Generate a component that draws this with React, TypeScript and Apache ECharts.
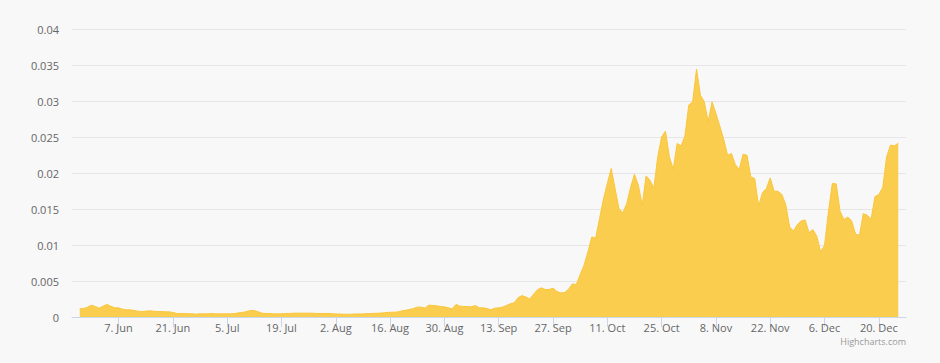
import React, { useEffect, useRef } from "react";
import * as echarts from "echarts";

// Daily values, 28 May 2021 – 25 Dec 2021
const startDate = "2021-05-28";
const mayValues = [0.00113, 0.00118, 0.00137, 0.00164];
const junValues = [
  0.00146, 0.00123, 0.0015, 0.00174, 0.0015, 0.00127, 0.00127, 0.00109, 0.001, 0.001,
  0.0009, 0.00081, 0.00076, 0.00081, 0.00086, 0.00081, 0.00076, 0.00076, 0.00072, 0.00072,
  0.00063, 0.00049, 0.00049, 0.00049, 0.00044, 0.00044, 0.00039, 0.00044, 0.00044, 0.00044,
];
const julValues = [
  0.00049, 0.00044, 0.00044, 0.00044, 0.00044, 0.00044, 0.00049, 0.00058, 0.00063, 0.00076,
  0.0009, 0.0009, 0.00072, 0.00053, 0.00049, 0.00049, 0.00044, 0.00044, 0.00044, 0.00049,
  0.00049, 0.00053, 0.00053, 0.00053, 0.00053, 0.00053, 0.00053, 0.00049, 0.00049, 0.00049,
  0.00049,
];
const augValues = [
  0.00045, 0.00042, 0.00042, 0.00038, 0.00038, 0.00038, 0.00042, 0.00042, 0.00042, 0.00047,
  0.00047, 0.00052, 0.00052, 0.00057, 0.00061, 0.00066, 0.00066, 0.00071, 0.00085, 0.00094,
  0.00104, 0.00118, 0.00137, 0.00137, 0.00123, 0.00165, 0.0016, 0.00156, 0.00146, 0.00142,
  0.00127,
];
const sepValues = [
  0.00113, 0.00175, 0.00151, 0.00146, 0.00146, 0.00142, 0.0016, 0.00127, 0.00127, 0.00118,
  0.00099, 0.00123, 0.00127, 0.00137, 0.0016, 0.00184, 0.00198, 0.00269, 0.00297, 0.00278,
  0.0025, 0.00316, 0.00377, 0.00406, 0.00382, 0.00382, 0.00401, 0.00354, 0.00335, 0.0034,
];
const octValues = [
  0.00385, 0.0046, 0.0045, 0.00589, 0.00718, 0.00904, 0.01112, 0.01098, 0.01367, 0.01636,
  0.01854, 0.02062, 0.01784, 0.01506, 0.01446, 0.01576, 0.01798, 0.01983, 0.0183, 0.01552,
  0.0196, 0.019, 0.01793, 0.02224, 0.02502, 0.02581, 0.02224, 0.02053, 0.0241, 0.02377,
  0.02512,
];
const novValues = [
  0.02943, 0.02989, 0.03443, 0.03082, 0.02989, 0.02711, 0.02989, 0.02827, 0.02651, 0.0247,
  0.02247, 0.02271, 0.02118, 0.02048, 0.02261, 0.02247, 0.01946, 0.01923, 0.01543, 0.01728,
  0.01784, 0.01932, 0.01747, 0.01747, 0.01701, 0.01562, 0.01251, 0.01196, 0.01284, 0.01335,
];
const decValues = [
  0.01348, 0.01172, 0.01214, 0.01121, 0.00904, 0.00996, 0.0146, 0.01854, 0.01849, 0.01469,
  0.01353, 0.0139, 0.01335, 0.01149, 0.01135, 0.01437, 0.01413, 0.01358, 0.01673, 0.01701,
  0.01798, 0.02224, 0.02387, 0.02377, 0.02414,
];

const axisStart = "2021-05-26";
const axisEnd = "2021-12-27";
const tickDates = [
  "2021-06-07", "2021-06-21", "2021-07-05", "2021-07-19", "2021-08-02", "2021-08-16",
  "2021-08-30", "2021-09-13", "2021-09-27", "2021-10-11", "2021-10-25", "2021-11-08",
  "2021-11-22", "2021-12-06", "2021-12-20",
];
const monthNames = ["Jan", "Feb", "Mar", "Apr", "May", "Jun", "Jul", "Aug", "Sep", "Oct", "Nov", "Dec"];

const DAY = 86400000;
const ts = (s: string) => Date.parse(s + "T00:00:00Z");

export default function App() {
  const ref = useRef<HTMLDivElement>(null);
  useEffect(() => {
    if (!ref.current) return;
    const chart = echarts.init(ref.current, undefined, { renderer: "svg" });
    const all = [
      ...mayValues, ...junValues, ...julValues, ...augValues,
      ...sepValues, ...octValues, ...novValues, ...decValues,
    ];
    const t0 = ts(startDate);
    const data = all.map((v, i) => [t0 + i * DAY, v]);
    const ticks = tickDates.map(ts);
    const font = "'Open Sans', 'DejaVu Sans', sans-serif";
    chart.setOption({
      animation: false,
      backgroundColor: "#f8f8f8",
      grid: { left: 72, right: 34, top: 29, bottom: 46, containLabel: false },
      xAxis: {
        type: "value",
        min: ts(axisStart),
        max: ts(axisEnd),
        axisLine: { show: true, lineStyle: { color: "#ccd6eb", width: 1 } },
        axisTick: {
          show: true,
          length: 10,
          lineStyle: { color: "#ccd6eb" },
          customValues: ticks,
        },
        axisLabel: {
          customValues: ticks,
          color: "#666666",
          fontSize: 11,
          fontFamily: font,
          margin: 5,
          formatter: (v: number) => {
            const d = new Date(v);
            return d.getUTCDate() + ". " + monthNames[d.getUTCMonth()];
          },
        },
        splitLine: { show: false },
      },
      yAxis: {
        type: "value",
        min: 0,
        max: 0.04,
        interval: 0.005,
        axisLine: { show: false },
        axisTick: { show: false },
        axisLabel: { color: "#666666", fontSize: 11, fontFamily: font, margin: 13 },
        splitLine: { lineStyle: { color: "#e6e6e6", width: 1 } },
      },
      series: [
        {
          type: "line",
          data,
          showSymbol: false,
          lineStyle: { color: "#f9c63c", width: 1 },
          areaStyle: { color: "#facd4f", opacity: 1 },
          itemStyle: { color: "#f9c63c" },
        },
      ],
      graphic: [
        {
          type: "text",
          right: 34,
          top: 337,
          style: { text: "Highcharts.com", fill: "#999999", fontSize: 9, fontFamily: font },
        },
      ],
    });
    return () => chart.dispose();
  }, []);
  return (
    <div
      ref={ref}
      style={{ position: "absolute", left: 0, top: 0, width: 940, height: 363, background: "#f8f8f8" }}
    />
  );
}
